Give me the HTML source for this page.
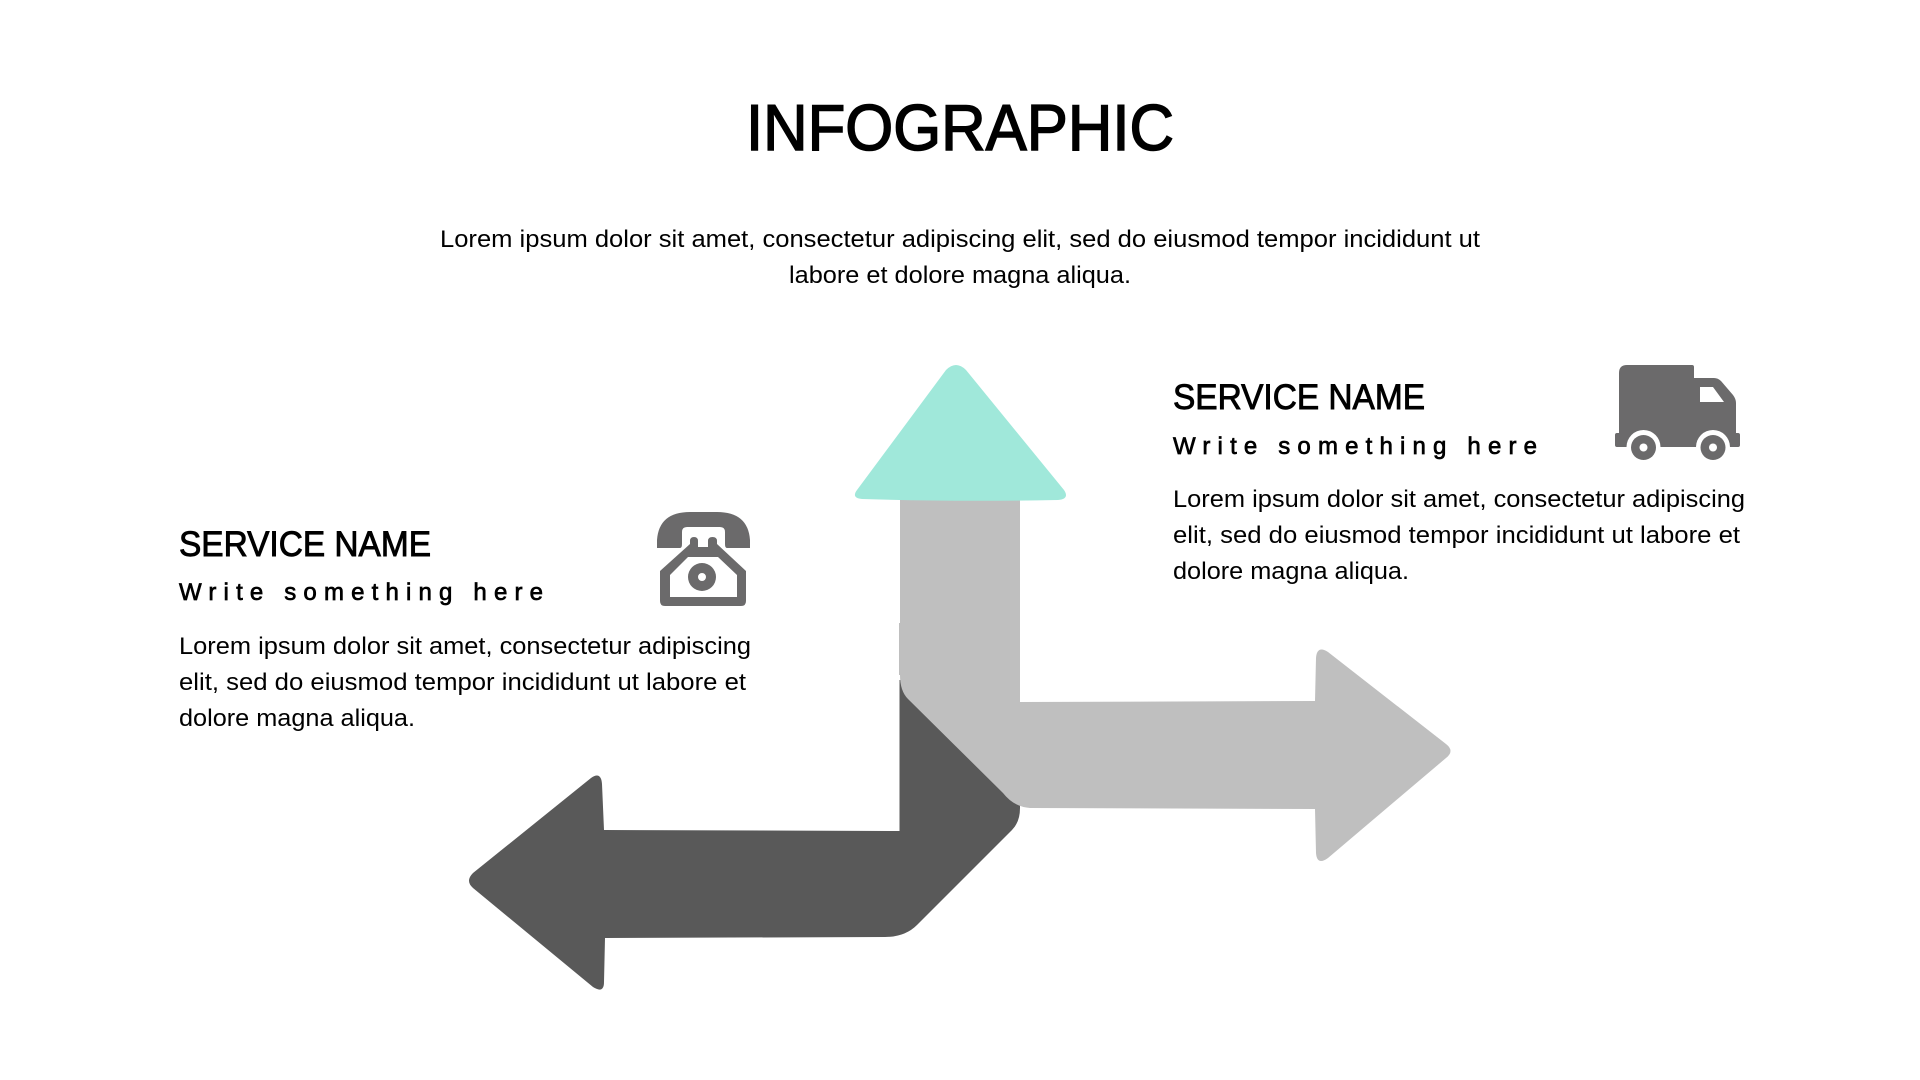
<!DOCTYPE html>
<html lang="en">
<head>
<meta charset="utf-8">
<title>Infographic</title>
<style>
html,body{margin:0;padding:0;background:#fff;width:1920px;height:1080px;overflow:hidden}
svg{display:block}
text{font-family:"Liberation Sans",sans-serif;fill:#000}
.title{stroke:#000;stroke-width:1.5px}
.name{stroke:#000;stroke-width:.9px}
.sub{stroke:#000;stroke-width:.7px}
.body{font-size:24px}
</style>
</head>
<body>
<svg width="1920" height="1080" viewBox="0 0 1920 1080" xmlns="http://www.w3.org/2000/svg">
<text class="title" x="746" y="150" font-size="65" textLength="428" lengthAdjust="spacingAndGlyphs">INFOGRAPHIC</text>
<text class="body" x="440" y="247" textLength="1040" lengthAdjust="spacingAndGlyphs">Lorem ipsum dolor sit amet, consectetur adipiscing elit, sed do eiusmod tempor incididunt ut</text>
<text class="body" x="789" y="283" textLength="342" lengthAdjust="spacingAndGlyphs">labore et dolore magna aliqua.</text>

<!-- dark arrow -->
<path fill="#595959" d="M899.5 680 H905 L1020 790 V808 Q1020 822 1012 830 L917 925 Q905 937 885 937 L605 938 L604 982 Q604 994 593 987 L473 888 Q465 881 473 873 L591 778 Q601 771 602 784 L604 830 L899.5 831 Z"/>
<!-- gray arrow -->
<path fill="#bfbfbf" d="M899 623 H900 V490 H1020 V702 L1315 701 L1316 658 Q1317 645 1328 652 L1446 744 Q1455 751 1446 758 L1328 858 Q1317 866 1316 853 L1315 809 L1030 808 Q1014 807 1003 793 L908 699 Q900 691 900 675 L899 675 Z"/>
<!-- teal arrow head -->
<path fill="#a0e8da" d="M946 370 Q956 360 966 370 L1064 490 Q1070 499 1058 500 Q956 502 862 499 Q851 498 857 490 Z"/>

<!-- left block -->
<text class="name" x="179" y="556" font-size="35" textLength="252" lengthAdjust="spacingAndGlyphs">SERVICE NAME</text>
<text class="sub" x="179" y="600" font-size="24" textLength="364" lengthAdjust="spacing">Write something here</text>
<text class="body" x="179" y="654" textLength="572" lengthAdjust="spacingAndGlyphs">Lorem ipsum dolor sit amet, consectetur adipiscing</text>
<text class="body" x="179" y="690" textLength="567" lengthAdjust="spacingAndGlyphs">elit, sed do eiusmod tempor incididunt ut labore et</text>
<text class="body" x="179" y="726" textLength="236" lengthAdjust="spacingAndGlyphs">dolore magna aliqua.</text>

<!-- right block -->
<text class="name" x="1173" y="409" font-size="35" textLength="252" lengthAdjust="spacingAndGlyphs">SERVICE NAME</text>
<text class="sub" x="1173" y="454" font-size="24" textLength="364" lengthAdjust="spacing">Write something here</text>
<text class="body" x="1173" y="507" textLength="572" lengthAdjust="spacingAndGlyphs">Lorem ipsum dolor sit amet, consectetur adipiscing</text>
<text class="body" x="1173" y="543" textLength="567" lengthAdjust="spacingAndGlyphs">elit, sed do eiusmod tempor incididunt ut labore et</text>
<text class="body" x="1173" y="579" textLength="236" lengthAdjust="spacingAndGlyphs">dolore magna aliqua.</text>

<!-- phone icon -->
<g fill="#6b6a6b">
<path d="M657 548 V540 Q659 512 690 512 H717 Q748 512 750 540 V548 H727 Q725 548 725 544 V532 Q725 527 720 527 H687 Q682 527 682 532 V544 Q682 548 680 548 Z"/>
<path fill-rule="evenodd" d="M690 544 V541 Q690 537 694 537 Q698 537 698 541 V547 H708 V541 Q708 537 712.5 537 Q717 537 717 541 V544 L746 571 V601 Q746 606 741 606 H665 Q660 606 660 601 V571 Z M688 557 L670 575 V597 H737 V575 L718 557 Z"/>
<path fill-rule="evenodd" d="M702 563 A14 14 0 1 0 702 591 A14 14 0 1 0 702 563 Z M702 573 A4 4 0 1 1 702 581 A4 4 0 1 1 702 573 Z"/>
</g>

<!-- truck icon -->
<path fill="#6b6a6b" fill-rule="evenodd" d="M1627 365 H1692 Q1694 365 1694 367 V378 H1714 Q1718 378 1721 381 L1733 395 Q1736 399 1736 403 V433 H1738 Q1740 433 1740 435 V445 Q1740 447 1738 447 H1617 Q1615 447 1615 445 V435 Q1615 433 1617 433 H1619 V373 Q1619 365 1627 365 Z M1700 387 V402 H1724 L1713 387 Z"/>
<g>
<circle cx="1643.5" cy="447" r="17" fill="#fff"/>
<circle cx="1713" cy="447" r="17" fill="#fff"/>
<rect x="1620" y="448" width="120" height="20" fill="#fff"/>
<circle cx="1643.5" cy="447.5" r="12.5" fill="#6b6a6b"/>
<circle cx="1713" cy="447.5" r="12.5" fill="#6b6a6b"/>
<circle cx="1643.5" cy="447.5" r="4" fill="#fff"/>
<circle cx="1713" cy="447.5" r="4" fill="#fff"/>
</g>
</svg>
</body>
</html>
